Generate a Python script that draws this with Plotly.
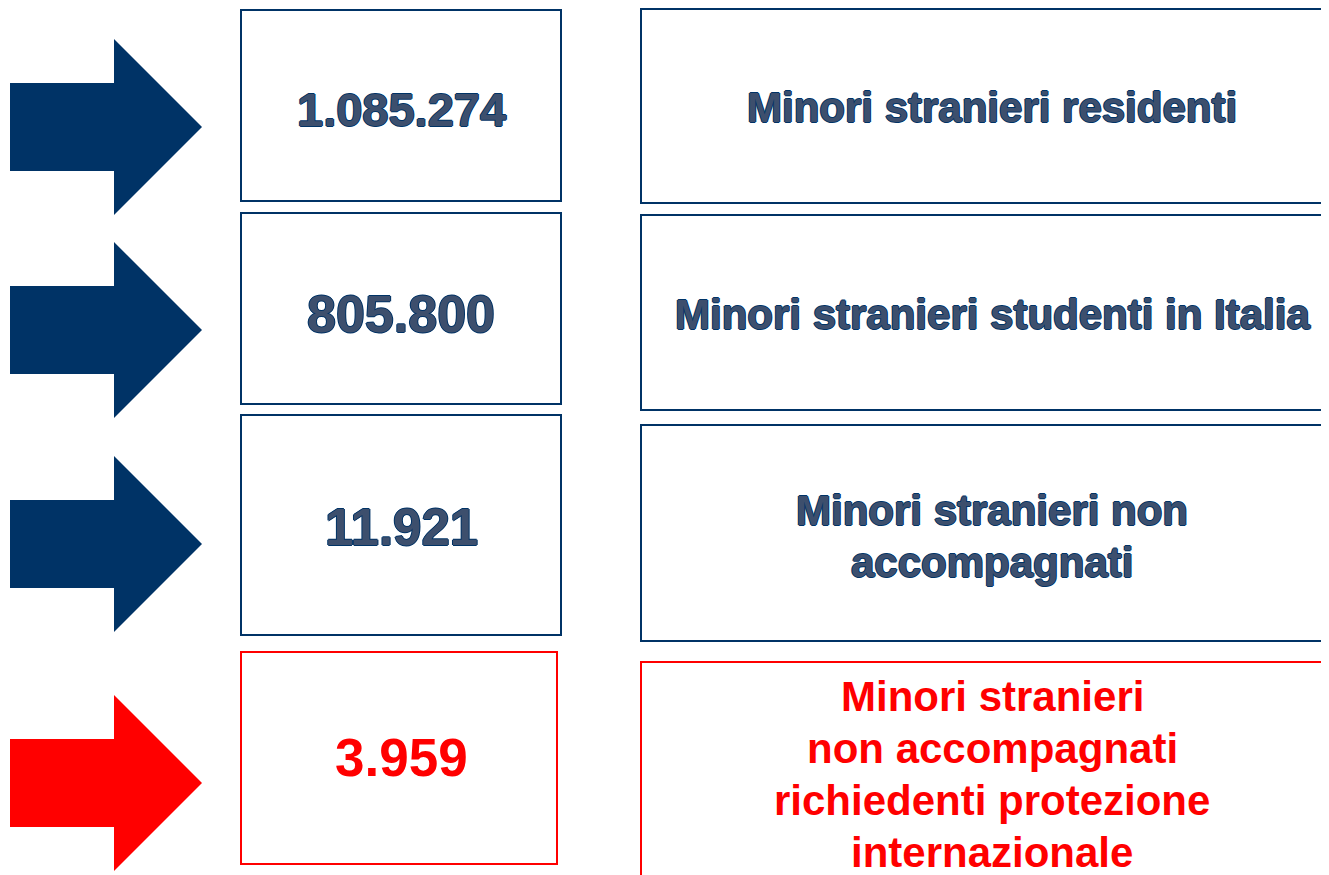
import plotly.graph_objects as go

# data
valori = [1085274, 805800, 11921, 3959]
etichette = [
    "Minori stranieri residenti",
    "Minori stranieri studenti in Italia",
    "Minori stranieri non<br>accompagnati",
    "Minori stranieri<br>non accompagnati<br>richiedenti protezione<br>internazionale",
]
evidenziato = [False, False, False, True]

# style / layout (pixel coordinates of the page)
NAVY = "#003366"
NAVY_FILL = "#3D4F6D"
RED = "#FF0000"
W, H = 1329, 875
OFF = 8  # page body margin

arrow_cy = [127, 330, 544, 783]
left_box = [(10, 201), (213, 404), (415, 635), (652, 864)]
right_box = [(9, 203), (215, 410), (425, 641), (662, 895)]
num_y = [109, 314, 527, 757]
lab_y = [107, 314, 536, 774]
num_size = [47, 52, 51, 53]
LINE_GAP = 52

outline = ", ".join(
    f"{dx}px {dy}px 0 {NAVY}"
    for dx, dy in [(1, 0), (-1, 0), (0, 1), (0, -1)]
)


def fmt_it(v):
    return f"{v:,}".replace(",", ".")


fig = go.Figure()
shapes = []
annotations = []

for i, v in enumerate(valori):
    red = evidenziato[i]
    col = RED if red else NAVY
    cy = arrow_cy[i]
    path = (
        f"M 10 {cy-44} L 114 {cy-44} L 114 {cy-88} L 202 {cy} "
        f"L 114 {cy+88} L 114 {cy+44} L 10 {cy+44} Z"
    )
    shapes.append(dict(type="path", path=path, xref="x", yref="y",
                       fillcolor=col, line=dict(width=0)))

    y0, y1 = left_box[i]
    shapes.append(dict(type="rect", xref="x", yref="y",
                       x0=241, x1=557 if red else 561, y0=y0, y1=y1,
                       line=dict(color=col, width=2), fillcolor="rgba(0,0,0,0)"))
    y0, y1 = right_box[i]
    shapes.append(dict(type="rect", xref="x", yref="y",
                       x0=641, x1=1345, y0=y0, y1=y1,
                       line=dict(color=col, width=2), fillcolor="rgba(0,0,0,0)"))

    if red:
        f_num = dict(family="Liberation Sans, Arial", size=num_size[i], color=RED, weight=700)
        f_lab = dict(family="Liberation Sans, Arial", size=42, color=RED, weight=700)
    else:
        f_num = dict(family="Liberation Sans, Arial", size=num_size[i], color=NAVY_FILL,
                     weight=700, shadow=outline)
        f_lab = dict(family="Liberation Sans, Arial", size=42, color=NAVY_FILL,
                     weight=700, shadow=outline)

    annotations.append(dict(x=401, y=num_y[i], xref="x", yref="y", text=fmt_it(v),
                            showarrow=False, font=f_num, xanchor="center", yanchor="middle"))
    righe = etichette[i].split("<br>")
    for k, riga in enumerate(righe):
        yk = lab_y[i] + (k - (len(righe) - 1) / 2) * LINE_GAP
        annotations.append(dict(x=992, y=yk, xref="x", yref="y", text=riga,
                                showarrow=False, font=f_lab, xanchor="center",
                                yanchor="middle"))

fig.update_layout(
    width=W, height=H,
    margin=dict(l=0, r=0, t=0, b=0),
    paper_bgcolor="white", plot_bgcolor="white",
    xaxis=dict(range=[OFF, W + OFF], visible=False, fixedrange=True),
    yaxis=dict(range=[H + OFF, OFF], visible=False, fixedrange=True),
    shapes=shapes, annotations=annotations,
    showlegend=False,
)

fig.write_html("out.html")
